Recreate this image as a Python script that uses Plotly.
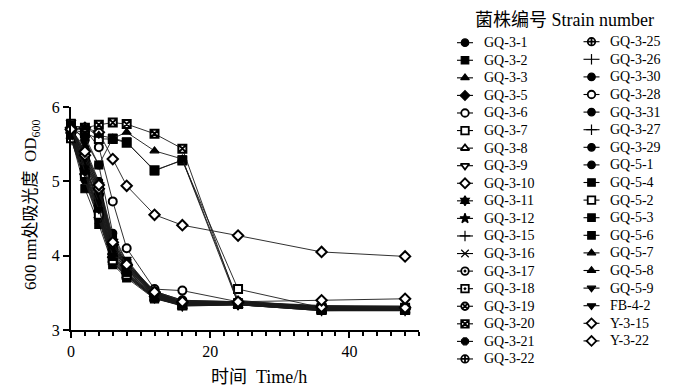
import plotly.graph_objects as go

time_h = [0, 2, 4, 6, 8, 12, 16, 24, 36, 48]

strains = ["GQ-3-1", "GQ-3-2", "GQ-3-3", "GQ-3-5", "GQ-3-6", "GQ-3-7", "GQ-3-8", "GQ-3-9",
           "GQ-3-10", "GQ-3-11", "GQ-3-12", "GQ-3-15", "GQ-3-16", "GQ-3-17", "GQ-3-18",
           "GQ-3-19", "GQ-3-20", "GQ-3-21", "GQ-3-22",
           "GQ-3-25", "GQ-3-26", "GQ-3-30", "GQ-3-28", "GQ-3-31", "GQ-3-27", "GQ-3-29",
           "GQ-5-1", "GQ-5-4", "GQ-5-2", "GQ-5-3", "GQ-5-6", "GQ-5-7", "GQ-5-8", "GQ-5-9",
           "FB-4-2", "Y-3-15", "Y-3-22"]

od600 = {
    "GQ-3-1":  [5.75, 5.55, 5.22, 4.30, 3.92, 3.50, 3.38, 3.38, 3.30, 3.30],
    "GQ-3-2":  [5.60, 4.90, 4.42, 3.88, 3.70, 3.42, 3.33, 3.35, 3.27, 3.27],
    "GQ-3-3":  [5.70, 5.20, 4.75, 4.05, 3.82, 3.48, 3.36, 3.36, 3.30, 3.29],
    "GQ-3-5":  [5.65, 5.10, 4.60, 3.98, 3.76, 3.45, 3.34, 3.35, 3.28, 3.28],
    "GQ-3-6":  [5.70, 5.70, 5.46, 4.73, 4.10, 3.55, 3.53, 3.38, 3.30, 3.31],
    "GQ-3-7":  [5.70, 5.65, 5.57, 5.57, 5.52, 5.15, 5.28, 3.55, 3.30, 3.30],
    "GQ-3-8":  [5.72, 5.30, 4.85, 4.10, 3.85, 3.50, 3.37, 3.37, 3.32, 3.32],
    "GQ-3-9":  [5.80, 5.25, 4.80, 4.08, 3.85, 3.47, 3.35, 3.36, 3.29, 3.29],
    "GQ-3-10": [5.70, 5.72, 5.66, 5.30, 4.94, 4.55, 4.41, 4.27, 4.05, 3.99],
    "GQ-3-11": [5.62, 5.05, 4.55, 3.95, 3.74, 3.44, 3.33, 3.34, 3.27, 3.27],
    "GQ-3-12": [5.66, 5.15, 4.65, 4.00, 3.78, 3.46, 3.35, 3.35, 3.28, 3.28],
    "GQ-3-15": [5.68, 5.35, 4.90, 4.15, 3.88, 3.50, 3.38, 3.37, 3.31, 3.30],
    "GQ-3-16": [5.58, 5.00, 4.48, 3.90, 3.72, 3.43, 3.33, 3.34, 3.26, 3.26],
    "GQ-3-17": [5.64, 5.40, 4.95, 4.20, 3.90, 3.52, 3.40, 3.38, 3.32, 3.31],
    "GQ-3-18": [5.60, 5.12, 4.62, 3.98, 3.76, 3.45, 3.34, 3.35, 3.28, 3.27],
    "GQ-3-19": [5.66, 5.28, 4.82, 4.10, 3.84, 3.48, 3.36, 3.36, 3.30, 3.29],
    "GQ-3-20": [5.75, 5.72, 5.76, 5.79, 5.77, 5.64, 5.44, 3.36, 3.28, 3.28],
    "GQ-3-21": [5.70, 5.45, 5.00, 4.25, 3.92, 3.52, 3.40, 3.38, 3.33, 3.32],
    "GQ-3-22": [5.62, 5.18, 4.70, 4.02, 3.80, 3.46, 3.35, 3.35, 3.29, 3.28],
    "GQ-3-25": [5.68, 5.32, 4.88, 4.12, 3.86, 3.49, 3.37, 3.36, 3.30, 3.30],
    "GQ-3-26": [5.56, 5.05, 4.52, 3.92, 3.72, 3.43, 3.32, 3.34, 3.26, 3.26],
    "GQ-3-30": [5.72, 5.38, 4.92, 4.18, 3.88, 3.50, 3.38, 3.37, 3.31, 3.31],
    "GQ-3-28": [5.66, 5.22, 4.72, 4.05, 3.82, 3.47, 3.36, 3.36, 3.29, 3.29],
    "GQ-3-31": [5.62, 5.08, 4.58, 3.96, 3.75, 3.44, 3.33, 3.34, 3.27, 3.27],
    "GQ-3-27": [5.70, 5.42, 4.98, 4.22, 3.90, 3.51, 3.39, 3.37, 3.32, 3.31],
    "GQ-3-29": [5.64, 5.20, 4.68, 4.02, 3.80, 3.46, 3.35, 3.35, 3.28, 3.28],
    "GQ-5-1":  [5.60, 5.02, 4.50, 3.92, 3.73, 3.43, 3.33, 3.34, 3.26, 3.27],
    "GQ-5-4":  [5.66, 5.25, 4.78, 4.08, 3.83, 3.48, 3.36, 3.36, 3.30, 3.29],
    "GQ-5-2":  [5.58, 5.10, 4.55, 3.94, 3.74, 3.44, 3.33, 3.35, 3.27, 3.27],
    "GQ-5-3":  [5.70, 5.60, 5.22, 5.58, 5.53, 5.14, 5.29, 3.36, 3.28, 3.28],
    "GQ-5-6":  [5.62, 5.15, 4.64, 3.99, 3.77, 3.45, 3.34, 3.35, 3.28, 3.28],
    "GQ-5-7":  [5.75, 5.72, 5.62, 5.58, 5.66, 5.41, 5.30, 3.40, 3.30, 3.30],
    "GQ-5-8":  [5.68, 5.30, 4.85, 4.12, 3.86, 3.49, 3.37, 3.36, 3.30, 3.30],
    "GQ-5-9":  [5.78, 5.18, 4.72, 4.05, 3.95, 3.48, 3.36, 3.36, 3.29, 3.29],
    "FB-4-2":  [5.76, 5.12, 4.62, 4.00, 3.92, 3.46, 3.35, 3.35, 3.28, 3.28],
    "Y-3-15":  [5.72, 5.35, 4.90, 4.15, 3.87, 3.50, 3.37, 3.37, 3.31, 3.30],
    "Y-3-22":  [5.70, 5.40, 4.95, 4.18, 3.88, 3.51, 3.38, 3.38, 3.40, 3.42],
}

# marker styles: (symbol, fill colour)
marker_style = {
    "GQ-3-1": ("circle", "black"), "GQ-3-2": ("square", "black"),
    "GQ-3-3": ("triangle-up", "black"), "GQ-3-5": ("diamond", "black"),
    "GQ-3-6": ("circle", "white"), "GQ-3-7": ("square", "white"),
    "GQ-3-8": ("triangle-up", "white"), "GQ-3-9": ("triangle-down", "white"),
    "GQ-3-10": ("diamond", "white"), "GQ-3-11": ("hexagram", "black"),
    "GQ-3-12": ("star", "black"), "GQ-3-15": ("cross-thin", "black"),
    "GQ-3-16": ("x-thin", "black"), "GQ-3-17": ("circle-dot", "white"),
    "GQ-3-18": ("square-dot", "white"), "GQ-3-19": ("circle-x", "white"),
    "GQ-3-20": ("square-x", "white"), "GQ-3-21": ("octagon", "black"),
    "GQ-3-22": ("circle-cross", "white"), "GQ-3-25": ("circle-cross", "white"),
    "GQ-3-26": ("line-ns", "black"), "GQ-3-30": ("circle", "black"),
    "GQ-3-28": ("circle", "white"), "GQ-3-31": ("circle", "black"),
    "GQ-3-27": ("cross-thin", "black"), "GQ-3-29": ("circle", "black"),
    "GQ-5-1": ("circle", "black"), "GQ-5-4": ("square", "black"),
    "GQ-5-2": ("square", "white"), "GQ-5-3": ("square", "black"),
    "GQ-5-6": ("square", "black"), "GQ-5-7": ("triangle-up", "black"),
    "GQ-5-8": ("triangle-up", "black"), "GQ-5-9": ("triangle-down", "black"),
    "FB-4-2": ("triangle-down", "black"), "Y-3-15": ("diamond", "white"),
    "Y-3-22": ("diamond", "white"),
}

legend_title = "菌株编号 Strain number"
x_title = "时间  Time/h"
y_title = "600 nm处吸光度  OD<sub>600</sub>"

FONT = "Liberation Serif, Times New Roman, Noto Sans CJK SC, serif"
W, H = 700, 386
AX_X0, AX_X1 = 71, 419   # axis extent in pixels
AX_Y0, AX_Y1 = 107, 330

fig = go.Figure()

# ---- data traces
for s in strains:
    sym, fill = marker_style[s]
    thick = 2.0 if fill == "white" else 1.2
    fig.add_trace(go.Scatter(
        x=time_h, y=od600[s], mode="lines+markers", name=s, showlegend=False,
        line=dict(color="#1a1a1a", width=0.9),
        marker=dict(symbol=sym, size=8, color=fill,
                    line=dict(color="black", width=thick)),
        cliponaxis=False, xaxis="x", yaxis="y",
    ))

# ---- legend keys (two columns), drawn on a pixel-scaled overlay axis
col_n = [19, 18]
col_cx = [465, 591.5]
col_y0 = [42.7, 41.7]
col_dy = [17.57, 17.6]
annotations = []
idx = 0
for c in range(2):
    for r in range(col_n[c]):
        s = strains[idx]
        idx += 1
        sym, fill = marker_style[s]
        thick = 1.8 if fill == "white" else 1.2
        cx, cy = col_cx[c], col_y0[c] + r * col_dy[c]
        fig.add_trace(go.Scatter(
            x=[cx - 8, cx, cx + 8], y=[cy, cy, cy], mode="lines+markers",
            showlegend=False, hoverinfo="skip", xaxis="x2", yaxis="y2",
            line=dict(color="black", width=1.1),
            marker=dict(symbol=sym, size=[0, 7.5, 0], opacity=[0, 1, 0], color=fill,
                        line=dict(color="black", width=thick)),
            cliponaxis=False,
        ))
        annotations.append(dict(text=s, x=cx + 16.5, y=cy, xref="x2", yref="y2",
                                xanchor="left", yanchor="middle", showarrow=False,
                                font=dict(family=FONT, size=14, color="black")))

annotations.append(dict(text=legend_title, x=564, y=20, xref="x2", yref="y2",
                        xanchor="center", yanchor="middle", showarrow=False,
                        font=dict(family=FONT, size=18, color="black")))
annotations.append(dict(text=x_title, x=259, y=377, xref="x2", yref="y2",
                        xanchor="center", yanchor="middle", showarrow=False,
                        font=dict(family=FONT, size=18, color="black")))
annotations.append(dict(text=y_title, x=32, y=205, xref="x2", yref="y2",
                        xanchor="center", yanchor="middle", showarrow=False,
                        textangle=-90,
                        font=dict(family=FONT, size=17, color="black")))

fig.update_layout(
    width=W, height=H,
    margin=dict(l=0, r=0, t=0, b=0, pad=0, autoexpand=False),
    paper_bgcolor="white", plot_bgcolor="rgba(0,0,0,0)",
    font=dict(family=FONT, color="black"),
    showlegend=False,
    annotations=annotations,
    xaxis=dict(domain=[AX_X0 / W, AX_X1 / W], range=[0, 50], tickvals=[0, 20, 40],
               ticks="outside", ticklen=6, tickwidth=2, tickcolor="black",
               showline=True, linewidth=2, linecolor="black", showgrid=False,
               zeroline=False, automargin=False, anchor="y",
               tickfont=dict(family=FONT, size=16),
               minor=dict(dtick=2, ticks="outside", ticklen=3.5, tickwidth=1.5,
                          tickcolor="black", showgrid=False)),
    yaxis=dict(domain=[(H - AX_Y1) / H, (H - AX_Y0) / H], range=[3, 6],
               tickvals=[3, 4, 5, 6], ticks="outside", ticklen=6, tickwidth=2,
               tickcolor="black", showline=True, linewidth=2, linecolor="black",
               showgrid=False, zeroline=False, automargin=False, anchor="x",
               tickfont=dict(family=FONT, size=16)),
    xaxis2=dict(domain=[0, 1], range=[0, W], visible=False, fixedrange=True,
                anchor="y2"),
    yaxis2=dict(domain=[0, 1], range=[H, 0], visible=False, fixedrange=True,
                anchor="x2"),
)

fig.write_html("out.html", config={"displayModeBar": False},
               post_script="document.body.style.margin='0px';")
